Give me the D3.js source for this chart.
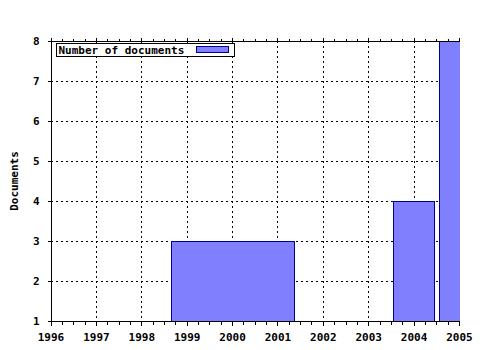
<!DOCTYPE html>
<html>
<head>
<meta charset="utf-8">
<script src="https://cdn.jsdelivr.net/npm/d3@7"></script>
<style>
  body { margin: 0; background: #fff; }
  text { font-family: "DejaVu Sans Mono", monospace; font-weight: bold; font-size: 11px; fill: #000; }
</style>
</head>
<body>
<div id="canvas"></div>
<script>
// data
const years = [1996, 1997, 1998, 1999, 2000, 2001, 2002, 2003, 2004, 2005];
const yTicks = [1, 2, 3, 4, 5, 6, 7, 8];
const barCenters = [2000, 2004, 2005];
const barWidths = [2.7, 0.9, 0.9];
const docCounts = [3, 4, 8];
const seriesName = "Number of documents";

const width = 480;
const height = 350;
const margin = { top: 41, left: 50, bottom: 29, right: 21 };

const svg = d3.select("#canvas").append("svg")
    .attr("width", width)
    .attr("height", height);

const x = d3.scaleLinear()
    .domain([1996, 2005])
    .range([margin.left + 0.5, width - margin.right]);

const y = d3.scaleLinear()
    .domain([1, 8])
    .range([height - margin.bottom, margin.top]);

const px = v => Math.round(v) + 0.5;

// clip for plot area
svg.append("clipPath").attr("id", "plot")
    .append("rect")
    .attr("x", x(1996)).attr("y", y(8))
    .attr("width", x(2005) - x(1996) + 1)
    .attr("height", y(1) - y(8));

// grid
const grid = svg.append("g")
    .attr("stroke", "#000")
    .attr("stroke-dasharray", "2,3")
    .attr("shape-rendering", "crispEdges");

grid.selectAll("line.h").data(yTicks.slice(1, -1)).enter().append("line")
    .attr("x1", x(1996)).attr("x2", x(2005))
    .attr("y1", d => px(y(d))).attr("y2", d => px(y(d)));

grid.selectAll("line.v").data(years.slice(1, -1)).enter().append("line")
    .attr("y1", y(8)).attr("y2", y(1))
    .attr("x1", d => px(x(d))).attr("x2", d => px(x(d)));

// bars
svg.append("g")
    .attr("clip-path", "url(#plot)")
    .selectAll("rect").data(docCounts).enter().append("rect")
    .attr("x", (d, i) => Math.round(x(barCenters[i] - barWidths[i] / 2)) + 0.5)
    .attr("width", (d, i) => Math.round(x(barCenters[i] + barWidths[i] / 2) - x(barCenters[i] - barWidths[i] / 2)))
    .attr("y", d => Math.round(y(d)) + 0.5)
    .attr("height", d => Math.round(y(1) - y(d)))
    .attr("fill", "#8080ff")
    .attr("stroke", "#000090")
    .attr("shape-rendering", "crispEdges");

// axes
const minorYears = d3.range(1996, 2005.001, 0.25);

const xBottom = svg.append("g")
    .attr("transform", `translate(0,${px(y(1))})`)
    .call(d3.axisBottom(x).tickValues(minorYears).tickSize(3).tickFormat(""));
xBottom.append("g")
    .call(d3.axisBottom(x).tickValues(years).tickSize(4).tickPadding(8).tickFormat(d3.format("d")));

const xTop = svg.append("g")
    .attr("transform", `translate(0,${px(y(8))})`)
    .call(d3.axisTop(x).tickValues(minorYears).tickSize(3).tickFormat(""));
xTop.append("g")
    .call(d3.axisTop(x).tickValues(years).tickSize(4).tickFormat(""));

const yLeft = svg.append("g")
    .attr("transform", `translate(${px(x(1996))},0)`)
    .call(d3.axisLeft(y).tickValues(yTicks).tickSize(4).tickPadding(8).tickFormat(d3.format("d")));

svg.selectAll("path.domain").remove();
svg.selectAll(".tick line").attr("shape-rendering", "crispEdges");
svg.selectAll(".tick text")
    .style("font-family", "DejaVu Sans Mono")
    .style("font-weight", "bold")
    .style("font-size", "11px");

// axis lines
xBottom.append("line")
    .attr("x1", x(1996)).attr("x2", x(2005) + 1)
    .attr("stroke", "#000").attr("shape-rendering", "crispEdges");
xTop.append("line")
    .attr("x1", x(1996)).attr("x2", x(2005) + 1)
    .attr("stroke", "#000").attr("shape-rendering", "crispEdges");
yLeft.append("line")
    .attr("y1", y(8)).attr("y2", y(1))
    .attr("stroke", "#000").attr("shape-rendering", "crispEdges");

// y axis label
svg.append("text")
    .attr("transform", `translate(18,${(y(1) + y(8)) / 2}) rotate(-90)`)
    .attr("text-anchor", "middle")
    .text("Documents");

// legend
const legend = svg.append("g").attr("transform", "translate(56.5,43.5)");
legend.append("rect")
    .attr("width", 178).attr("height", 13)
    .attr("fill", "#fff").attr("stroke", "#000")
    .attr("shape-rendering", "crispEdges");
legend.append("text")
    .attr("x", 2).attr("y", 10.5)
    .text(seriesName);
legend.append("rect")
    .attr("x", 140).attr("y", 3)
    .attr("width", 32).attr("height", 6)
    .attr("fill", "#8080ff").attr("stroke", "#000090")
    .attr("shape-rendering", "crispEdges");
</script>
</body>
</html>
